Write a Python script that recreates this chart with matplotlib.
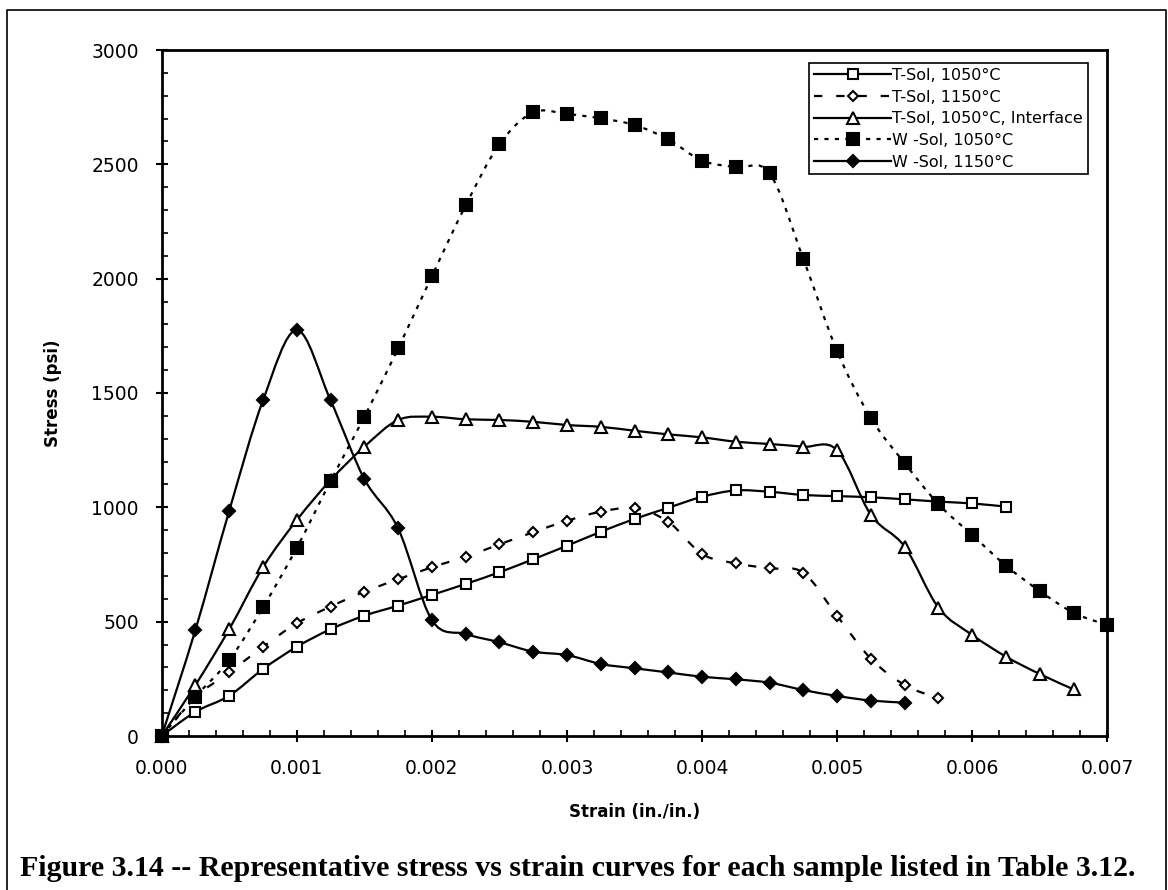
import numpy as np
import matplotlib
matplotlib.use("Agg")
import matplotlib.pyplot as plt
from matplotlib.path import Path
from matplotlib.patches import PathPatch
from matplotlib.lines import Line2D

# strain points (in./in.), shared by every sample
strain = [0.0, 0.00025, 0.0005, 0.00075, 0.001, 0.00125, 0.0015, 0.00175,
          0.002, 0.00225, 0.0025, 0.00275, 0.003, 0.00325, 0.0035, 0.00375,
          0.004, 0.00425, 0.0045, 0.00475, 0.005, 0.00525, 0.0055, 0.00575,
          0.006, 0.00625, 0.0065, 0.00675, 0.007]

# stress (psi)
t_sol_1050 = [0, 106, 176, 293, 390, 467, 526, 570, 617, 665, 716, 773, 832,
              893, 949, 998, 1046, 1074, 1068, 1054, 1049, 1044, 1035, 1025,
              1017, 1003]
t_sol_1150 = [0, 170, 278, 390, 493, 566, 631, 685, 738, 784, 838, 891, 941,
              981, 996, 937, 796, 755, 733, 714, 525, 338, 223, 165]
t_sol_interface = [0, 223, 467, 738, 944, 1119, 1265, 1382, 1396, 1385, 1382,
                   1374, 1360, 1352, 1335, 1319, 1306, 1287, 1277, 1265, 1250,
                   967, 828, 561, 442, 347, 271, 204]
w_sol_1050 = [0, 172, 332, 563, 823, 1115, 1396, 1695, 2011, 2320, 2588, 2727,
              2720, 2701, 2672, 2609, 2516, 2487, 2461, 2086, 1683, 1390, 1193,
              1014, 879, 745, 634, 539, 485]
w_sol_1150 = [0, 465, 985, 1468, 1775, 1468, 1124, 908, 507, 446, 410, 369,
              354, 315, 296, 278, 259, 248, 233, 201, 175, 155, 146]

labels = ["T-Sol, 1050°C", "T-Sol, 1150°C", "T-Sol, 1050°C, Interface",
          "W -Sol, 1050°C", "W -Sol, 1150°C"]

plt.rcParams["font.family"] = ["DejaVu Sans"]
plt.rcParams["lines.scale_dashes"] = False


def smooth_path(xs, ys):
    # Excel style smoothed line: Catmull-Rom segments as cubic beziers
    pts = np.column_stack([xs, ys]).astype(float)
    n = len(pts)
    verts = [pts[0]]
    codes = [Path.MOVETO]
    for i in range(n - 1):
        p0 = pts[i - 1] if i > 0 else pts[i]
        p1, p2 = pts[i], pts[i + 1]
        p3 = pts[i + 2] if i + 2 < n else pts[i + 1]
        verts += [p1 + (p2 - p0) / 6, p2 - (p3 - p1) / 6, p2]
        codes += [Path.CURVE4] * 3
    return Path(verts, codes)


fig = plt.figure(figsize=(11.68, 8.90), dpi=100)
ax = fig.add_axes([161.7 / 1168, 1 - 736 / 890, 945.6 / 1168, 686 / 890])

solid = "-"
dashed = (0, (6, 10))
dotted = (0, (3, 4.5))

series = [
    (t_sol_1050, solid, dict(marker="s", ms=7.5, mfc="white")),
    (t_sol_1150, dashed, dict(marker="D", ms=5.5, mfc="white")),
    (t_sol_interface, solid, dict(marker="^", ms=8, mfc="white")),
    (w_sol_1050, dotted, dict(marker="s", ms=8.5, mfc="black")),
    (w_sol_1150, solid, dict(marker="D", ms=6.5, mfc="black")),
]

handles = []
for (stress, ls, mk), lab in zip(series, labels):
    xs = strain[:len(stress)]
    ax.add_patch(PathPatch(smooth_path(xs, stress), fill=False,
                           edgecolor="black", lw=1.6, linestyle=ls,
                           capstyle="butt", zorder=2))
    ax.plot(xs, stress, linestyle="none", color="black", mec="black",
            mew=1.5, clip_on=False, zorder=3, **mk)
    handles.append(Line2D([], [], color="black", lw=1.6, linestyle=ls,
                          mec="black", mew=1.5, label=lab, **mk))

ax.set_xlim(0, 0.007)
ax.set_ylim(0, 3000)
ax.set_xticks(np.linspace(0, 0.007, 8))
ax.set_xticks(np.linspace(0, 0.007, 36), minor=True)
ax.set_yticks(np.linspace(0, 3000, 7))
ax.set_yticks(np.linspace(0, 3000, 31), minor=True)
ax.xaxis.set_major_formatter(plt.FormatStrFormatter("%.3f"))
ax.tick_params(which="major", direction="inout", length=9, width=1.5,
               labelsize=13.5, pad=12)
ax.tick_params(which="minor", direction="in", length=4, width=1.2)

for side in ["left", "bottom", "right", "top"]:
    ax.spines[side].set_linewidth(2.0)

ax.set_xlabel("Strain (in./in.)", fontsize=12, fontweight="bold")
ax.set_ylabel("Stress (psi)", fontsize=12, fontweight="bold")
ax.xaxis.set_label_coords(0.5, (736 - 812) / 686)
ax.xaxis.label.set_va("center")
ax.yaxis.set_label_coords((53 - 161.7) / 945.6, 0.5)
ax.yaxis.label.set_va("center")

leg = fig.legend(handles=handles, loc="upper right",
                 bbox_to_anchor=(1088 / 1168, 1 - 63 / 890),
                 fontsize=11.5, handlelength=4.8, handletextpad=0.1,
                 labelspacing=0.42, borderpad=0.3, borderaxespad=0,
                 fancybox=False, framealpha=1)
leg.get_frame().set_edgecolor("black")
leg.get_frame().set_linewidth(1.2)

# caption under the chart
fig.text(578 / 1168, 1 - 868 / 890,
         "Figure 3.14 -- Representative stress vs strain curves for each "
         "sample listed in Table 3.12.",
         ha="center", va="center", fontsize=21.5, fontweight="bold",
         family=["Liberation Serif", "DejaVu Serif"])

# page frame around the whole figure
fig.add_artist(Line2D([7 / 1168, 7 / 1168, 1166 / 1168, 1166 / 1168],
                      [0, 1 - 10 / 890, 1 - 10 / 890, 0],
                      color="black", lw=1.2, transform=fig.transFigure))

fig.savefig("out.png", dpi=100)
